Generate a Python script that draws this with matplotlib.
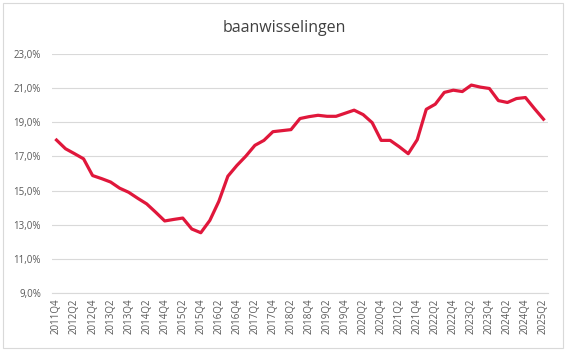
import matplotlib
matplotlib.use("Agg")
import matplotlib.pyplot as plt
from matplotlib.patches import Rectangle

quarters = [f"{y}Q{q}" for y in range(2011, 2026) for q in range(1, 5)]
quarters = quarters[quarters.index("2011Q4"):quarters.index("2025Q2") + 1]

values = [17.96, 17.45, 17.16, 16.86, 15.88, 15.70, 15.50, 15.14, 14.90, 14.55,
          14.22, 13.73, 13.22, 13.31, 13.39, 12.75, 12.53, 13.25, 14.37, 15.84,
          16.47, 17.02, 17.65, 17.94, 18.45, 18.51, 18.57, 19.22, 19.33, 19.41,
          19.35, 19.35, 19.53, 19.71, 19.45, 18.98, 17.94, 17.94, 17.57, 17.16,
          17.98, 19.76, 20.06, 20.75, 20.88, 20.80, 21.18, 21.06, 20.98, 20.27,
          20.16, 20.39, 20.45, 19.80, 19.18]

yticks = [9, 11, 13, 15, 17, 19, 21, 23]
ytick_labels = [f"{v},0%" for v in yticks]
title = "baanwisselingen"

W, H = 579, 356
fig = plt.figure(figsize=(W / 100, H / 100), dpi=100)
plt.rcParams['font.family'] = ['Open Sans', 'DejaVu Sans']

# outer border
fig.patches.append(Rectangle((3 / W, 1 - 348 / H), 560 / W, 345 / H,
                             transform=fig.transFigure, fill=False,
                             edgecolor="#d9d9d9", linewidth=0.8))

ax = fig.add_axes([52 / W, 1 - 293 / H, (548 - 52) / W, (293 - 54) / H])
x = list(range(len(quarters)))
ax.plot(x, values, color="#E0173B", linewidth=2.3, solid_joinstyle="round", zorder=3)

ax.set_xlim(-0.5, len(quarters) - 0.5)
ax.set_ylim(9, 23)
ax.set_yticks(yticks)
ax.set_yticklabels(ytick_labels, fontsize=7, color="#595959")
ax.set_xticks(x[::2])
ax.set_xticklabels(quarters[::2], rotation=90, fontsize=7, color="#595959")
ax.tick_params(length=0, pad=4)
ax.tick_params(axis='y', pad=8)
ax.grid(axis='y', color="#d9d9d9", linewidth=0.8)
ax.set_axisbelow(True)
for s in ["top", "right", "left"]:
    ax.spines[s].set_visible(False)
ax.spines["bottom"].set_color("#d9d9d9")
ax.spines["bottom"].set_linewidth(0.8)

fig.text(284 / W, 1 - 28 / H, title, ha="center", va="center",
         fontsize=11.5, color="#404040")

fig.savefig("out.png", dpi=100)
